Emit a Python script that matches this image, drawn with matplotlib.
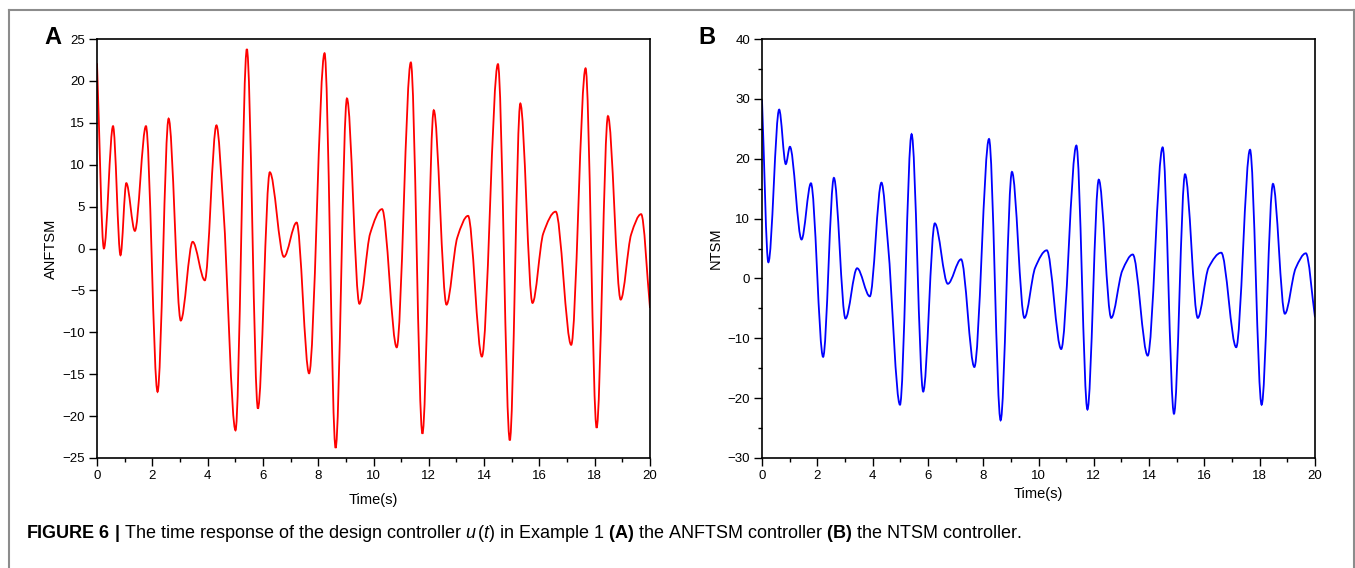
import matplotlib
matplotlib.use("Agg")
import matplotlib.pyplot as plt
from matplotlib.path import Path
from matplotlib.patches import PathPatch
from matplotlib.lines import Line2D
from matplotlib.ticker import MultipleLocator

plt.rcParams['font.family'] = ['Liberation Sans', 'DejaVu Sans']
plt.rcParams['mathtext.fontset'] = 'custom'
plt.rcParams['mathtext.rm'] = 'Liberation Sans'
plt.rcParams['mathtext.it'] = 'Liberation Sans:italic'
plt.rcParams['mathtext.bf'] = 'Liberation Sans:bold'

# turning points (and a few shoulders) of u(t)
anftsm_t = [0.0, 0.25, 0.58, 0.85, 1.06, 1.37, 1.77, 2.19, 2.59, 3.03, 3.46, 3.90,
            4.32, 4.57, 5.01, 5.42, 5.82, 6.25, 6.76, 7.22, 7.67, 8.23, 8.63,
            9.04, 9.49, 9.88, 10.31, 10.84, 11.35, 11.77, 12.18, 12.64, 13.03, 13.42,
            13.92, 14.50, 14.93, 15.31, 15.75, 16.14, 16.59, 17.15, 17.67, 18.07,
            18.48, 18.94, 19.32, 19.68, 20.0]
anftsm_u = [22.1, 0.0, 14.6, -0.8, 7.8, 2.1, 14.6, -17.1, 15.5, -8.6, 0.8, -3.8,
            14.7, 4.8, -21.7, 23.8, -19.1, 9.1, -1.0, 3.1, -14.9, 23.3, -23.8,
            17.9, -6.6, 1.8, 4.7, -11.8, 22.2, -22.1, 16.5, -6.7, 1.3, 3.9,
            -12.9, 22.0, -22.9, 17.3, -6.5, 1.8, 4.4, -11.5, 21.5, -21.4,
            15.8, -6.1, 1.7, 4.1, -7.1]

ntsm_t = [0.0, 0.23, 0.62, 0.86, 1.01, 1.43, 1.77, 2.21, 2.60, 3.02, 3.44, 3.90,
          4.32, 4.56, 4.99, 5.41, 5.83, 6.25, 6.72, 7.20, 7.68, 8.21, 8.63,
          9.04, 9.49, 9.88, 10.30, 10.82, 11.37, 11.77, 12.18, 12.63, 13.03, 13.41,
          13.95, 14.49, 14.90, 15.30, 15.76, 16.15, 16.61, 17.15, 17.65, 18.07,
          18.48, 18.91, 19.30, 19.67, 20.0]
ntsm_u = [29.8, 2.7, 28.2, 19.1, 22.0, 6.5, 15.9, -13.1, 16.8, -6.7, 1.7, -3.0,
          16.0, 5.5, -21.1, 24.1, -18.9, 9.2, -0.9, 3.2, -14.8, 23.3, -23.7,
          17.8, -6.6, 1.8, 4.7, -11.8, 22.2, -21.9, 16.5, -6.6, 1.3, 4.0,
          -12.9, 21.9, -22.6, 17.4, -6.6, 1.8, 4.3, -11.5, 21.5, -21.1,
          15.8, -5.9, 1.7, 4.2, -6.5]

caption = (r"$\mathbf{FIGURE\ 6\ |}$ The time response of the design controller $u\,(t)$ "
           r"in Example 1 $\mathbf{(A)}$ the ANFTSM controller $\mathbf{(B)}$ the NTSM controller.")


def smooth_path(t, u):
    # monotone cubic (pchip-style tangents) drawn as bezier pieces
    n = len(t)
    h = [t[i + 1] - t[i] for i in range(n - 1)]
    d = [(u[i + 1] - u[i]) / h[i] for i in range(n - 1)]
    m = [0.0] * n
    m[0], m[-1] = d[0], d[-1]
    for i in range(1, n - 1):
        if d[i - 1] * d[i] > 0:
            w1 = 2 * h[i] + h[i - 1]
            w2 = h[i] + 2 * h[i - 1]
            m[i] = (w1 + w2) / (w1 / d[i - 1] + w2 / d[i])
    verts = [(t[0], u[0])]
    codes = [Path.MOVETO]
    for i in range(n - 1):
        k = h[i] / 3
        verts += [(t[i] + k, u[i] + m[i] * k),
                  (t[i + 1] - k, u[i + 1] - m[i + 1] * k),
                  (t[i + 1], u[i + 1])]
        codes += [Path.CURVE4] * 3
    return Path(verts, codes)


W, H = 1355, 568
fig = plt.figure(figsize=(W / 100, H / 100), dpi=100)

# grey frame around the figure
grey = '#8c8c8c'
fig.add_artist(Line2D([9 / W, 9 / W], [0, 1 - 10 / H], transform=fig.transFigure, color=grey, lw=1.5))
fig.add_artist(Line2D([9 / W, 1354 / W], [1 - 10 / H, 1 - 10 / H], transform=fig.transFigure, color=grey, lw=1.5))
fig.add_artist(Line2D([1354 / W, 1354 / W], [0, 1 - 10 / H], transform=fig.transFigure, color=grey, lw=1.5))

axA = fig.add_axes([97 / W, 1 - 458 / H, 553 / W, 419 / H])
axB = fig.add_axes([762 / W, 1 - 458 / H, 553 / W, 419 / H])

panels = [
    (axA, anftsm_t, anftsm_u, 'red', 'ANFTSM', (-25, 25), 5, None, 'A', 44, -0.083),
    (axB, ntsm_t, ntsm_u, 'blue', 'NTSM', (-30, 40), 10, 5, 'B', 698, -0.069),
]

for ax, t, u, col, ylab, ylim, ymaj, ymin, letter, lx, xlab_y in panels:
    ax.add_patch(PathPatch(smooth_path(t, u), fill=False, edgecolor=col, lw=1.3))
    ax.set_xlim(0, 20)
    ax.set_ylim(*ylim)
    ax.xaxis.set_major_locator(MultipleLocator(2))
    ax.xaxis.set_minor_locator(MultipleLocator(1))
    ax.yaxis.set_major_locator(MultipleLocator(ymaj))
    if ymin:
        ax.yaxis.set_minor_locator(MultipleLocator(ymin))
    ax.tick_params(which='major', direction='out', length=5.5, width=1.0, labelsize=9.5, pad=3)
    ax.tick_params(which='minor', direction='out', length=3, width=1.0)
    ax.tick_params(top=False, right=False, which='both')
    for s in ax.spines.values():
        s.set_linewidth(1.2)
    ax.set_xlabel('Time(s)', fontsize=10.5)
    ax.xaxis.set_label_coords(0.5, xlab_y)
    ax.set_ylabel(ylab, fontsize=10.5)
    ax.yaxis.set_label_coords(-0.0705, 0.5)
    fig.text(lx / W, 1 - 37 / H, letter, fontsize=17, fontweight='bold', ha='left', va='center')

fig.text(26 / W, 1 - 533 / H, caption, fontsize=13, ha='left', va='center')

fig.savefig('out.png', dpi=100)
